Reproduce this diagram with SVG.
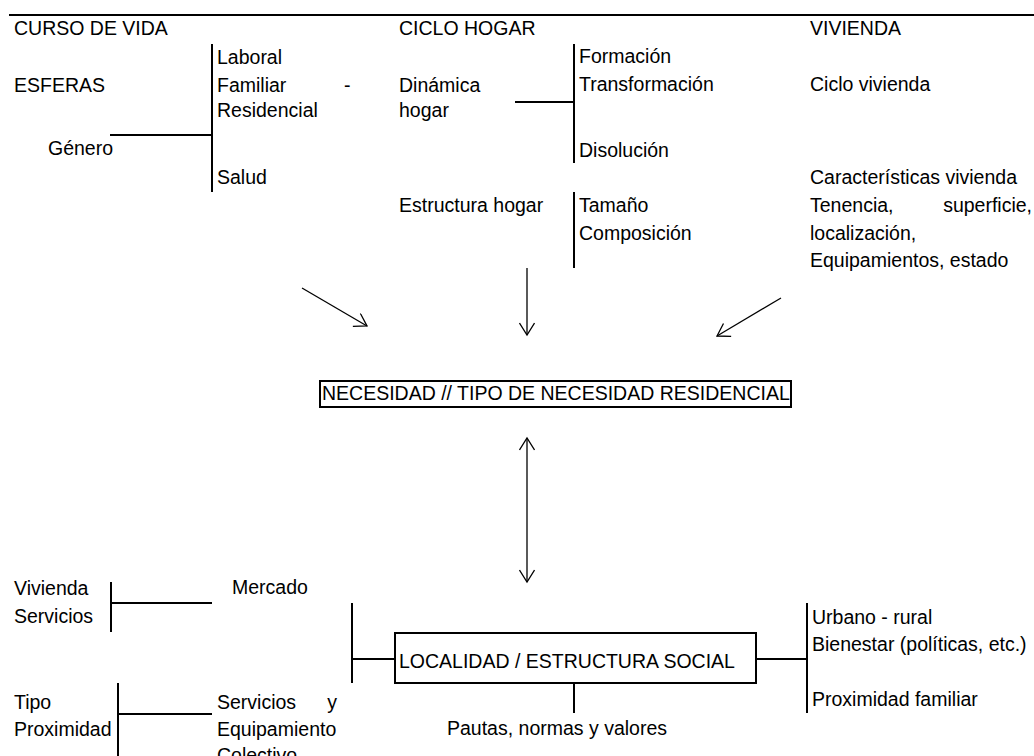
<svg xmlns="http://www.w3.org/2000/svg" width="1034" height="756" viewBox="0 0 1034 756">
  <style>
    text { font-family: "Liberation Sans", Arial, sans-serif; font-size: 19.5px; fill: #000; }
    .end { text-anchor: end; }
    .rule { stroke: #000; stroke-width: 2; fill: none; }
    .box { stroke: #000; stroke-width: 2; fill: #fff; }
    .arrow { stroke: #000; stroke-width: 1.3; fill: none; }
  </style>
  <defs>
    <marker id="open-head" viewBox="0 0 16 16" refX="14" refY="8" markerWidth="16" markerHeight="16" markerUnits="userSpaceOnUse" orient="auto-start-reverse">
      <path d="M2,0.5 L14,8 L2,15.5" fill="none" stroke="#000" stroke-width="1.3"/>
    </marker>
  </defs>

  <rect x="0" y="0" width="1034" height="756" fill="#fff"/>

  <!-- connectors and bracket rules -->
  <g id="connectors">
    <line class="rule" x1="9" y1="15" x2="1034" y2="15"/>
    <!-- esferas bracket -->
    <line class="rule" x1="212" y1="44" x2="212" y2="192"/>
    <line class="rule" x1="110" y1="135" x2="212" y2="135"/>
    <!-- dinámica hogar bracket -->
    <line class="rule" x1="574" y1="44" x2="574" y2="163"/>
    <line class="rule" x1="515" y1="102" x2="574" y2="102"/>
    <!-- estructura hogar bracket -->
    <line class="rule" x1="574" y1="192" x2="574" y2="268"/>
    <!-- arrows into the need box -->
    <line class="arrow" x1="302" y1="288" x2="367" y2="326" marker-end="url(#open-head)"/>
    <line class="arrow" x1="527" y1="268" x2="527" y2="335" marker-end="url(#open-head)"/>
    <line class="arrow" x1="781" y1="298" x2="717" y2="336" marker-end="url(#open-head)"/>
    <line class="arrow" x1="527" y1="438" x2="527" y2="582" marker-start="url(#open-head)" marker-end="url(#open-head)"/>
    <!-- mercado bracket -->
    <line class="rule" x1="111" y1="582" x2="111" y2="632"/>
    <line class="rule" x1="111" y1="603" x2="212" y2="603"/>
    <!-- locality bracket -->
    <line class="rule" x1="352" y1="603" x2="352" y2="683"/>
    <line class="rule" x1="352" y1="659" x2="395" y2="659"/>
    <line class="rule" x1="756" y1="659" x2="807" y2="659"/>
    <line class="rule" x1="807" y1="603" x2="807" y2="713"/>
    <line class="rule" x1="574" y1="683" x2="574" y2="713"/>
    <!-- servicios bracket -->
    <line class="rule" x1="118" y1="683" x2="118" y2="756"/>
    <line class="rule" x1="118" y1="714" x2="212" y2="714"/>
  </g>

  <g id="curso-de-vida">
    <text x="14" y="35">CURSO DE VIDA</text>
    <text x="14" y="92">ESFERAS</text>
    <text x="48" y="155">Género</text>
    <text x="217" y="64">Laboral</text>
    <text x="217" y="92">Familiar</text>
    <text x="344" y="92">-</text>
    <text x="217" y="117">Residencial</text>
    <text x="217" y="184">Salud</text>
  </g>

  <g id="ciclo-hogar">
    <text x="399" y="35">CICLO HOGAR</text>
    <text x="399" y="92">Dinámica</text>
    <text x="399" y="117">hogar</text>
    <text x="579" y="63">Formación</text>
    <text x="579" y="91">Transformación</text>
    <text x="579" y="157">Disolución</text>
    <text x="399" y="212">Estructura hogar</text>
    <text x="579" y="212">Tamaño</text>
    <text x="579" y="240">Composición</text>
  </g>

  <g id="vivienda">
    <text x="810" y="35">VIVIENDA</text>
    <text x="810" y="91">Ciclo vivienda</text>
    <text x="810" y="184">Características vivienda</text>
    <text x="810" y="212">Tenencia,</text>
    <text class="end" x="1032" y="212">superficie,</text>
    <text x="810" y="240">localización,</text>
    <text x="810" y="267">Equipamientos, estado</text>
  </g>

  <g id="necesidad">
    <rect class="box" x="320" y="381" width="471" height="26"/>
    <text x="322" y="400">NECESIDAD // TIPO DE NECESIDAD RESIDENCIAL</text>
  </g>

  <g id="mercado">
    <text x="14" y="595">Vivienda</text>
    <text x="14" y="623">Servicios</text>
    <text x="232" y="594">Mercado</text>
  </g>

  <g id="localidad">
    <rect class="box" x="395" y="633" width="361" height="50"/>
    <text x="399" y="668">LOCALIDAD / ESTRUCTURA SOCIAL</text>
    <text x="447" y="735">Pautas, normas y valores</text>
  </g>

  <g id="contexto">
    <text x="812" y="624">Urbano - rural</text>
    <text x="812" y="651">Bienestar (políticas, etc.)</text>
    <text x="812" y="706">Proximidad familiar</text>
  </g>

  <g id="equipamiento">
    <text x="14" y="709">Tipo</text>
    <text x="14" y="736">Proximidad</text>
    <text x="217" y="709">Servicios</text>
    <text class="end" x="337" y="709">y</text>
    <text x="217" y="736">Equipamiento</text>
    <text x="217" y="762">Colectivo</text>
  </g>
</svg>
